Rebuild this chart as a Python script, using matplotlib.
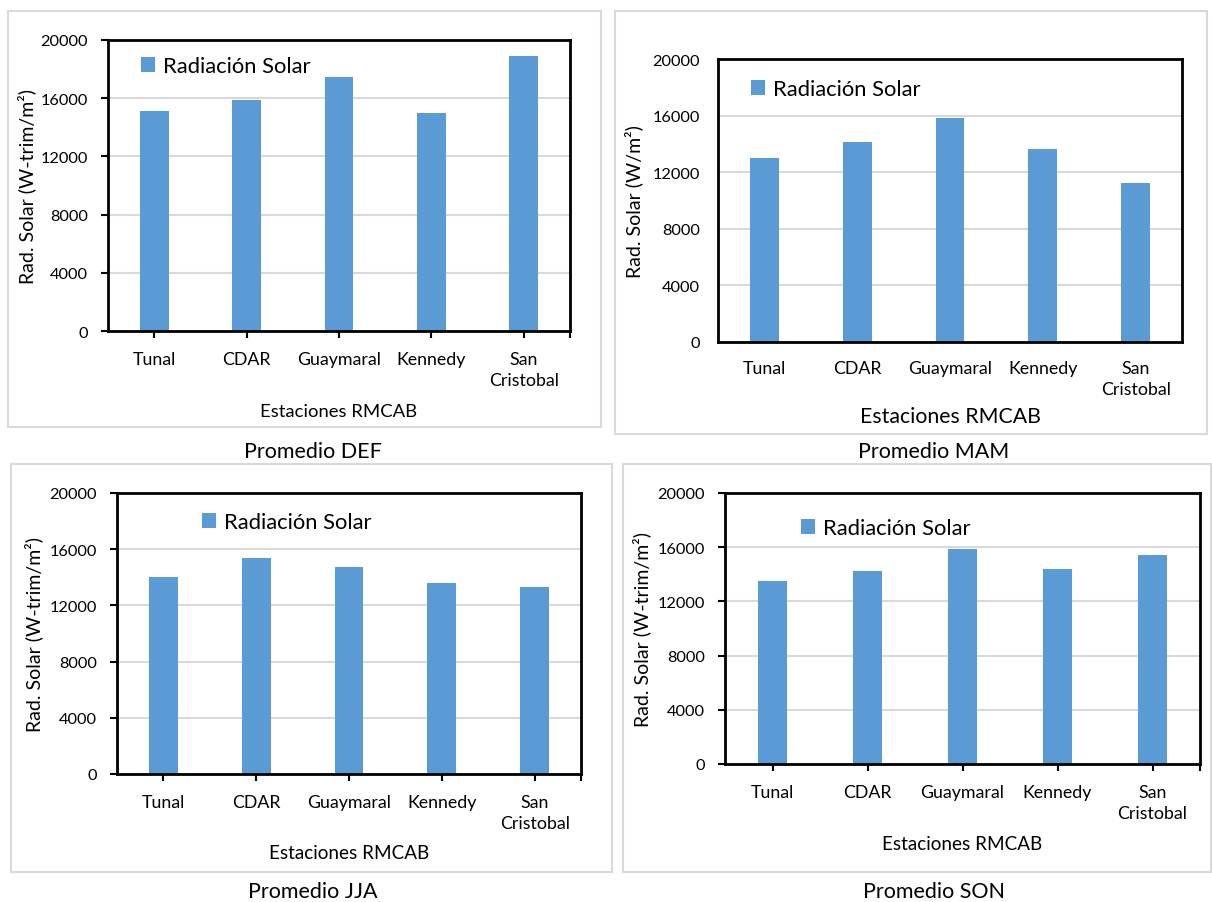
import matplotlib
matplotlib.use("Agg")
import matplotlib.pyplot as plt
from matplotlib.patches import Rectangle

plt.rcParams['font.family'] = ['Lato', 'DejaVu Sans']

# data
estaciones = ['Tunal', 'CDAR', 'Guaymaral', 'Kennedy', 'San\nCristobal']
def_vals = [15140, 15900, 17460, 14960, 18900]
mam_vals = [13030, 14110, 15850, 13660, 11240]
jja_vals = [14020, 15340, 14760, 13620, 13310]
son_vals = [13520, 14220, 15840, 14410, 15400]
yticks = [0, 4000, 8000, 12000, 16000, 20000]
captions = ['Promedio DEF', 'Promedio MAM', 'Promedio JJA', 'Promedio SON']
ylabels = ['Rad. Solar (W-trim/m²)', 'Rad. Solar (W/m²)',
           'Rad. Solar (W-trim/m²)', 'Rad. Solar (W-trim/m²)']
serie = 'Radiación Solar'

BLUE = '#5B9BD5'
GRID = '#d9d9d9'
W, H = 1212, 903

fig = plt.figure(figsize=(W / 100, H / 100), dpi=100)


def px_rect(x0, y0, x1, y1):
    # pixel box (top-left origin) -> figure fraction [l, b, w, h]
    return [x0 / W, 1 - y1 / H, (x1 - x0) / W, (y1 - y0) / H]


# layout of each panel, in pixels
panels = [
    dict(vals=def_vals, frame=(8, 12, 601, 428), ax=(108, 41, 570, 332),
         leg=(141, 67), cap=(313, 452), xl=-0.275, yl=-0.175, ticks=True, xfs=13.3),
    dict(vals=mam_vals, frame=(615, 12, 1207, 435), ax=(718, 60, 1182, 343),
         leg=(751, 90), cap=(934, 452), xl=-0.261, yl=-0.181, ticks=False, xfs=15.3),
    dict(vals=jja_vals, frame=(11, 465, 612, 873), ax=(117, 494, 581, 775),
         leg=(202, 523), cap=(313, 892), xl=-0.281, yl=-0.179, ticks=True, xfs=13.6),
    dict(vals=son_vals, frame=(623, 465, 1211, 873), ax=(725, 494, 1200, 765),
         leg=(801, 529), cap=(934, 892), xl=-0.292, yl=-0.176, ticks=True, xfs=13.6),
]

for i, p in enumerate(panels):
    fx0, fy0, fx1, fy1 = p['frame']
    fig.patches.append(Rectangle((fx0 / W, 1 - fy1 / H), (fx1 - fx0) / W, (fy1 - fy0) / H,
                                 transform=fig.transFigure, facecolor='none',
                                 edgecolor=GRID, linewidth=1.5))
    fig.text(p['cap'][0] / W, 1 - p['cap'][1] / H, captions[i], ha='center', va='center',
             fontsize=15.5)

    ax = fig.add_axes(px_rect(*p['ax']))
    x = range(len(estaciones))
    ax.bar(x, p['vals'], width=0.31, color=BLUE, label=serie, zorder=2)
    ax.set_xlim(-0.5, len(estaciones) - 0.5)
    ax.set_ylim(0, 20000)
    ax.set_yticks(yticks)
    ax.set_xticks(list(x))
    ax.set_xticklabels(estaciones, fontsize=12.8, linespacing=1.37)
    ax.tick_params(axis='y', labelsize=11.8)
    ax.yaxis.grid(True, color=GRID, linewidth=1.5, zorder=0)
    ax.set_axisbelow(True)
    for s in ax.spines.values():
        s.set_linewidth(2)
        s.set_color('black')
    if p['ticks']:
        ax.tick_params(axis='both', direction='out', length=5, width=1.5, pad=9.5)
        # small mark at the right end of the category axis
        ax.set_xticks([len(estaciones) - 0.5], minor=True)
        ax.tick_params(axis='x', which='minor', direction='out', length=5, width=1.5)
    else:
        ax.tick_params(axis='both', length=0, pad=13)

    ax.set_xlabel('Estaciones RMCAB', fontsize=p['xfs'], va='center')
    ax.xaxis.set_label_coords(0.5, p['xl'])
    ax.set_ylabel(ylabels[i], fontsize=14, va='center')
    ax.yaxis.set_label_coords(p['yl'], 0.5)

    lx, ly = p['leg']
    ax.legend(loc='center left', bbox_to_anchor=(lx / W, 1 - ly / H),
              bbox_transform=fig.transFigure, frameon=False, fontsize=15.8,
              handlelength=0.65, handleheight=0.65, handletextpad=0.35,
              borderpad=0, borderaxespad=0)

fig.savefig('out.png', dpi=100)
